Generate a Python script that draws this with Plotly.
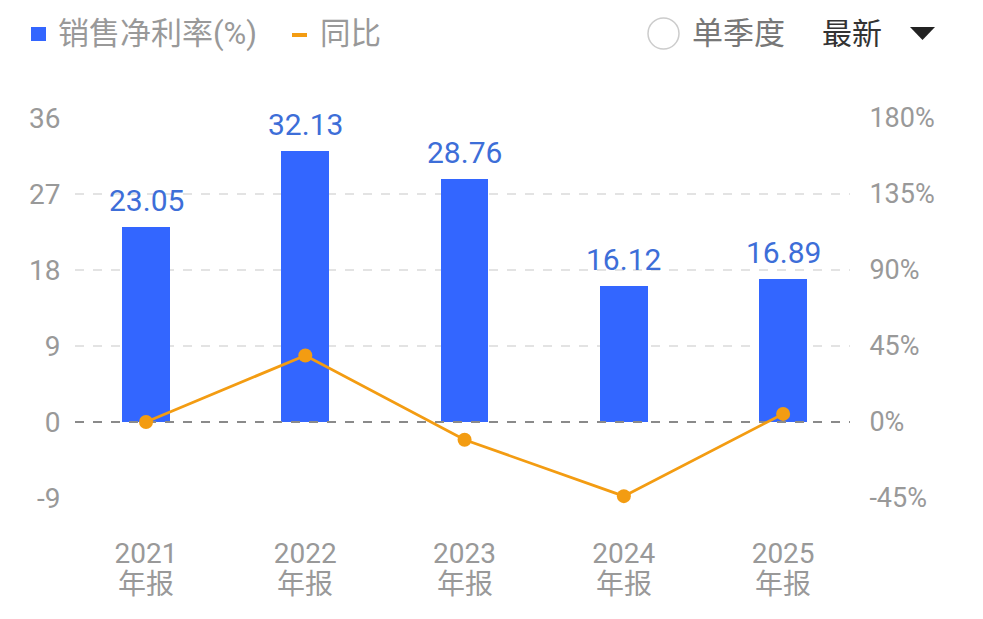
import plotly.graph_objects as go

years = ["2021", "2022", "2023", "2024", "2025"]
period_label = "年报"
net_margin = [23.05, 32.13, 28.76, 16.12, 16.89]
yoy_pct = [0.0, 39.4, -10.5, -43.9, 4.8]
left_ticks = [-9, 0, 9, 18, 27, 36]
left_tick_text = ["-9", "0", "9", "18", "27", "36"]
right_ticks = [-45, 0, 45, 90, 135, 180]
right_tick_text = ["-45%", "0%", "45%", "90%", "135%", "180%"]

W, H = 983, 619
OFF = 8  # page body margin
L, R, T, B = 75, 850, 118, 498
FONT = "Roboto, Noto Sans CJK SC, sans-serif"
BLUE = "#3366FF"
LABEL_BLUE = "#3D6ED8"
ORANGE = "#F39C12"
GRAY = "#999999"
XRANGE = [-0.446, 4.42]

def px(x):
    return (x - L) / (R - L)

def py(y):
    return (B - y) / (B - T)

x = list(range(len(years)))

fig = go.Figure()
fig.add_trace(go.Bar(x=x, y=net_margin, width=0.30, marker=dict(color=BLUE, line=dict(width=0)),
                     name="销售净利率(%)", yaxis="y"))
# zero baseline (dashed, darker), between bars and line
fig.add_trace(go.Scatter(x=XRANGE, y=[0, 0], mode="lines", yaxis="y", hoverinfo="skip",
                         line=dict(color="#8A8A8A", width=2, dash="dash"), showlegend=False))
fig.add_trace(go.Scatter(x=x, y=yoy_pct, mode="lines+markers", yaxis="y2", cliponaxis=False,
                         line=dict(color=ORANGE, width=2.8),
                         marker=dict(color=ORANGE, size=14), name="同比"))

annotations = []
for xi, v in zip(x, net_margin):
    annotations.append(dict(x=xi, y=v, xref="x", yref="y", text=f"{v:.2f}", showarrow=False,
                            yanchor="bottom", yshift=7,
                            font=dict(family=FONT, size=30, color=LABEL_BLUE)))
for xi in x:
    annotations.append(dict(x=xi, y=py(584), xref="x", yref="paper", text=period_label, showarrow=False,
                            yanchor="middle", font=dict(family=FONT, size=28, color=GRAY)))

# header legend / controls
annotations += [
    dict(x=px(56), y=py(34), xref="paper", yref="paper", text="销售净利率(%)", showarrow=False,
         xanchor="left", yanchor="middle", font=dict(family=FONT, size=31, color=GRAY)),
    dict(x=px(318), y=py(34), xref="paper", yref="paper", text="同比", showarrow=False,
         xanchor="left", yanchor="middle", font=dict(family=FONT, size=30.5, color=GRAY)),
    dict(x=px(690), y=py(34), xref="paper", yref="paper", text="单季度", showarrow=False,
         xanchor="left", yanchor="middle", font=dict(family=FONT, size=31, color="#777777")),
    dict(x=px(820), y=py(34), xref="paper", yref="paper", text="最新", showarrow=False,
         xanchor="left", yanchor="middle", font=dict(family=FONT, size=30, color="#333333")),
]

shapes = [
    dict(type="rect", xref="paper", yref="paper", x0=px(31), x1=px(46), y0=py(41), y1=py(27),
         fillcolor=BLUE, line=dict(width=0)),
    dict(type="line", xref="paper", yref="paper", x0=px(292), x1=px(307), y0=py(35), y1=py(35),
         line=dict(color=ORANGE, width=4)),
    dict(type="circle", xref="paper", yref="paper", x0=px(648), x1=px(679), y0=py(49), y1=py(18),
         line=dict(color="#CCCCCC", width=1.5), fillcolor="white"),
    dict(type="path", xref="paper", yref="paper",
         path=f"M {px(910)} {py(27)} L {px(935)} {py(27)} L {px(922.5)} {py(40)} Z",
         fillcolor="#222222", line=dict(width=0)),
    dict(type="rect", xref="paper", yref="paper", x0=px(977), x1=px(990), y0=py(630), y1=py(-10),
         fillcolor="#F4F4F4", line=dict(width=0), layer="below"),
]

fig.update_layout(
    width=W - OFF, height=H - OFF,
    margin=dict(l=L - OFF, r=W - R, t=T - OFF, b=H - B, pad=0),
    paper_bgcolor="white", plot_bgcolor="white",
    showlegend=False,
    bargap=0,
    font=dict(family=FONT, size=28, color=GRAY),
    xaxis=dict(range=XRANGE, tickmode="array", tickvals=x, ticktext=years,
               showgrid=False, zeroline=False, showline=False,
               ticks="outside", ticklen=30, tickcolor="rgba(0,0,0,0)",
               tickfont=dict(family=FONT, size=28, color=GRAY)),
    yaxis=dict(range=[-9, 36], tickmode="array", tickvals=left_ticks, ticktext=left_tick_text,
               showgrid=True, gridcolor="#E3E3E3", griddash="dash", gridwidth=1.5,
               zeroline=False, showline=False,
               ticks="outside", ticklen=8, tickcolor="rgba(0,0,0,0)",
               tickfont=dict(family=FONT, size=28, color=GRAY)),
    yaxis2=dict(range=[-45, 180], tickmode="array", tickvals=right_ticks, ticktext=right_tick_text,
                overlaying="y", side="right", showgrid=False, zeroline=False, showline=False,
                ticks="outside", ticklen=13, tickcolor="rgba(0,0,0,0)",
                tickfont=dict(family=FONT, size=27, color=GRAY)),
    annotations=annotations,
    shapes=shapes,
)

fig.write_html("out.html")
